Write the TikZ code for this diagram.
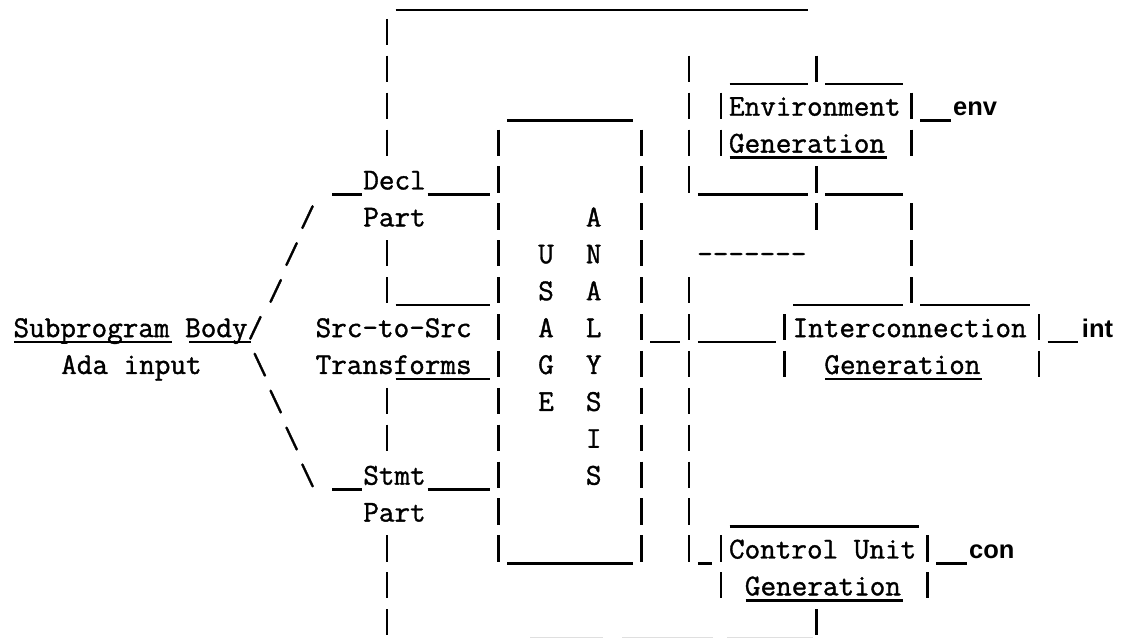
\documentclass[tikz,border=0pt]{standalone}
\usepackage{fontspec}
\newfontfamily\typer{Latin Modern Mono}[FakeBold=1.2]
\newfontfamily\tagfont{Liberation Sans}

\begin{document}
\begin{tikzpicture}[x=15.9pt, y=-36.9pt,
    tt/.style={font=\fontsize{30.3}{36}\selectfont\typer, inner sep=0pt,
      anchor=base west, yshift=-5pt},
    tag/.style={font=\fontsize{25.5}{30}\selectfont\tagfont\bfseries, inner sep=0pt,
      anchor=base west, yshift=-5pt},
    bar/.style={line width=2.6pt},
    rule/.style={line width=2.4pt}]
  \useasboundingbox (-24.34,0) rectangle (46.23,17.317);
  % Typed vertical bars, one per row.
  \foreach \c/\rows in {0/{1,2,3,4,7,8,11,12,15,16,17},
      7/{4,...,15}, 16/{4,...,15}, 19/{2,3,4,5,8,9,10,11,12,13,14,15},
      21/{3,4,15,16}, 25/{9,10}, 27/{2,5,6,17}, 33/{3,4,6,7,8},
      34/{15,16}, 41/{9,10}}
    \foreach \r in \rows
      \draw[bar] (\c,\r-0.49) -- (\c,\r+0.22);
  % Underscore runs: first column / last column / row.
  \foreach \a/\b/\r in {1/26/0, 22/26/2, 28/32/2, 8/15/3, 34/35/3, 22/31/4,
      -3/-2/5, 3/6/5, 20/26/5, 28/32/5, 1/6/8, 26/32/8, 34/40/8,
      -23/-14/9, -12/-9/9, 17/18/9, 20/24/9, 42/43/9, 1/6/10, 28/37/10,
      -3/-2/13, 3/6/13, 22/33/14, 8/15/15, 20/20/15, 35/36/15, 23/32/16}
    \draw[rule] (\a-0.45,\r+0.27) -- (\b+0.45,\r+0.27);

  % Input side.
  \node[tt] (sub) at (-23.5,9) {Subprogram Body/};
  \node[tt] (ada) at (-20.5,10) {Ada input};
  \foreach \c/\r [count=\i] in {-5/6, -6/7, -7/8}
    \node[tt] (fw\i) at (\c-0.5,\r) {/};
  \foreach \c/\r [count=\i] in {-8/10, -7/11, -6/12, -5/13}
    \node[tt] (bw\i) at (\c-0.5,\r) {\textbackslash};
  \node[tt] (decl) at (-1.5,5) {Decl};
  \node[tt] (part1) at (-1.5,6) {Part};
  \node[tt] (src) at (-4.5,9) {Src-to-Src};
  \node[tt] (trans) at (-4.5,10) {Transforms};
  \node[tt] (stmt) at (-1.5,13) {Stmt};
  \node[tt] (part2) at (-1.5,14) {Part};

  % Usage analysis column.
  \foreach \ch [count=\i from 7] in {U,S,A,G,E}
    \node[tt] (us\i) at (9.5,\i) {\ch};
  \foreach \ch [count=\i from 6] in {A,N,A,L,Y,S,I,S}
    \node[tt] (an\i) at (12.5,\i) {\ch};
  \node[tt] (dash) at (19.5,7) {-------};

  % Generators.
  \node[tt] (envgen) at (21.5,3) {Environment};
  \node[tt] (envgen2) at (21.5,4) {Generation};
  \node[tag] (env) at (35.6,3) {env};
  \node[tt] (intgen) at (25.5,9) {Interconnection};
  \node[tt] (intgen2) at (27.5,10) {Generation};
  \node[tag] (int) at (43.7,9) {int};
  \node[tt] (congen) at (21.5,15) {Control Unit};
  \node[tt] (congen2) at (22.5,16) {Generation};
  \node[tag] (con) at (36.6,15) {con};

  % Faint marks cut off at the bottom edge.
  \draw[gray!25, line width=1.2pt] (9,17.27) -- (13.6,17.27)
    (14.8,17.27) -- (20.5,17.27) (21.4,17.27) -- (26.8,17.27);
\end{tikzpicture}
\end{document}
